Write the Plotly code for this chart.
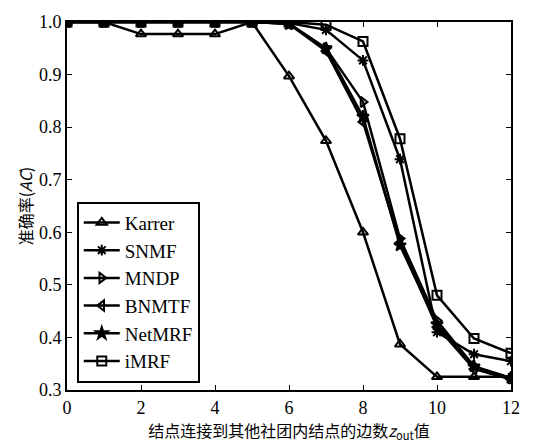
import plotly.graph_objects as go

x_vals = list(range(13))
karrer = [1.0, 1.0, 0.977, 0.977, 0.977, 1.0, 0.897, 0.774, 0.600, 0.387, 0.325, 0.325, 0.325]
snmf   = [1.0, 1.0, 1.0, 1.0, 1.0, 1.0, 0.998, 0.985, 0.927, 0.739, 0.410, 0.368, 0.355]
mndp   = [1.0, 1.0, 1.0, 1.0, 1.0, 1.0, 0.997, 0.950, 0.848, 0.588, 0.432, 0.345, 0.322]
bnmtf  = [1.0, 1.0, 1.0, 1.0, 1.0, 1.0, 0.996, 0.945, 0.810, 0.580, 0.420, 0.340, 0.320]
netmrf = [1.0, 1.0, 1.0, 1.0, 1.0, 1.0, 0.996, 0.950, 0.820, 0.575, 0.425, 0.345, 0.323]
imrf   = [1.0, 1.0, 1.0, 1.0, 1.0, 1.0, 1.0, 0.995, 0.963, 0.778, 0.480, 0.398, 0.370]

series = [
    ("Karrer", karrer, "triangle-up-open"),
    ("SNMF", snmf, "asterisk-open"),
    ("MNDP", mndp, "triangle-right-open"),
    ("BNMTF", bnmtf, "triangle-left-open"),
    ("NetMRF", netmrf, "star"),
    ("iMRF", imrf, "square-open"),
]

fig = go.Figure()
for name, vals, sym in series:
    fig.add_trace(go.Scatter(
        x=x_vals, y=vals, name=name, mode="lines+markers",
        line=dict(color="black", width=2.5),
        marker=dict(symbol=sym, size=9, color="black",
                    line=dict(color="black", width=2)),
    ))

x_ticks = [0, 2, 4, 6, 8, 10, 12]
y_ticks = [0.3, 0.4, 0.5, 0.6, 0.7, 0.8, 0.9, 1.0]

axis_common = dict(
    showline=True, linecolor="black", linewidth=2, mirror="ticks",
    ticks="inside", ticklen=5, tickwidth=1, tickcolor="black",
    showgrid=False, zeroline=False,
    tickfont=dict(family="Liberation Serif", size=18, color="black"),
)

fig.update_layout(
    width=537, height=445,
    margin=dict(l=67, r=26, t=13, b=54),
    paper_bgcolor="white", plot_bgcolor="white",
    showlegend=True,
    legend=dict(
        x=0.022, y=0.02, xanchor="left", yanchor="bottom",
        bgcolor="white", bordercolor="black", borderwidth=2,
        font=dict(family="Liberation Serif", size=19, color="black"),
        tracegroupgap=0, itemwidth=36,
    ),
    xaxis=dict(range=[0, 12], tickvals=x_ticks,
               ticktext=[str(v) for v in x_ticks],
               title=dict(text="结点连接到其他社团内结点的边数<i>z</i><sub>out</sub>值",
                          font=dict(family="Noto Sans CJK SC", size=16, color="black"),
                          standoff=4),
               **axis_common),
    yaxis=dict(range=[0.3, 1.0], tickvals=y_ticks,
               ticktext=[f"{v:.1f}" for v in y_ticks],
               title=dict(text="准确率(<i>AC</i>)",
                          font=dict(family="Noto Sans CJK SC", size=16, color="black"),
                          standoff=2),
               **axis_common),
)

fig.write_html("out.html")
